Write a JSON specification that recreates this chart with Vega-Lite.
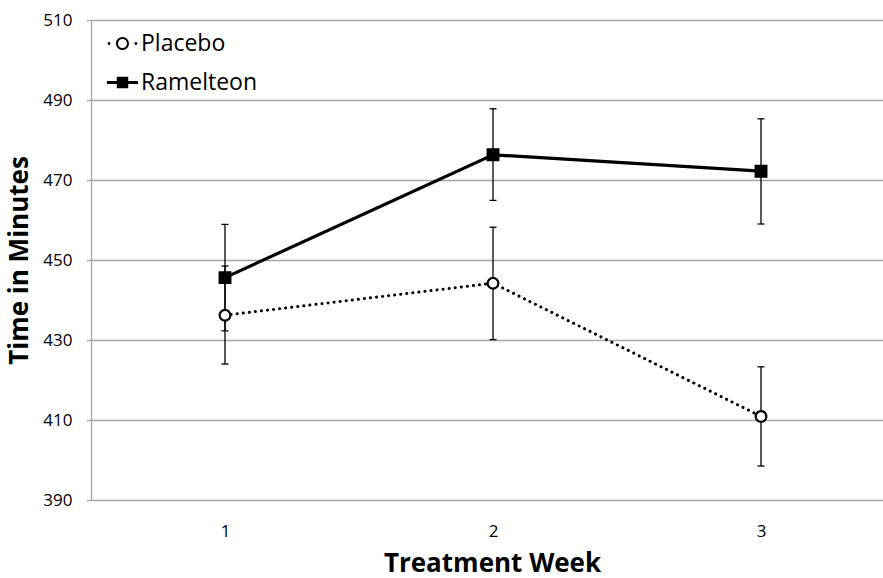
{
  "$schema": "https://vega.github.io/schema/vega-lite/v6.json",
  "autosize": {"type": "none"},
  "width": 792,
  "height": 480,
  "padding": {"left": 91, "top": 20, "right": 0, "bottom": 78},
  "background": "white",
  "config": {
    "font": "Open Sans",
    "view": {"stroke": null},
    "axis": {"labelFont": "Open Sans", "titleFont": "Open Sans", "labelColor": "#000000", "titleColor": "#000000"}
  },
  "data": {
    "values": [
      {"week": 1, "series": "Placebo", "mean": 436.2, "lo": 424.0, "hi": 448.5},
      {"week": 2, "series": "Placebo", "mean": 444.2, "lo": 430.1, "hi": 458.2},
      {"week": 3, "series": "Placebo", "mean": 410.9, "lo": 398.5, "hi": 423.3},
      {"week": 1, "series": "Ramelteon", "mean": 445.6, "lo": 432.3, "hi": 458.9},
      {"week": 2, "series": "Ramelteon", "mean": 476.3, "lo": 464.9, "hi": 487.8},
      {"week": 3, "series": "Ramelteon", "mean": 472.2, "lo": 459.0, "hi": 485.3}
    ]
  },
  "encoding": {
    "x": {
      "field": "week", "type": "quantitative",
      "scale": {"domain": [0.5, 3.4552], "nice": false, "zero": false},
      "axis": {
        "title": "Treatment Week", "values": [1, 2, 3], "format": "d",
        "grid": false, "ticks": false, "domain": false,
        "labelFontSize": 17, "labelPadding": 23,
        "titleFontSize": 26, "titleFontWeight": "bold", "titlePadding": 11, "titleX": 401
      }
    }
  },
  "resolve": {"scale": {"shape": "independent"}},
  "layer": [
    {
      "mark": {"type": "rule", "stroke": "#000000", "strokeWidth": 1.3},
      "encoding": {
        "y": {
          "field": "lo", "type": "quantitative",
          "scale": {"domain": [390, 510], "nice": false, "zero": false},
          "axis": {
            "title": "Time in Minutes", "values": [390, 410, 430, 450, 470, 490, 510],
            "grid": true, "gridColor": "#a6a6a6", "gridWidth": 1.3,
            "domain": true, "domainColor": "#a6a6a6", "domainWidth": 1.3,
            "ticks": true, "tickColor": "#a6a6a6", "tickSize": 5, "tickWidth": 1.3,
            "labelFontSize": 17, "labelPadding": 14,
            "titleFontSize": 26, "titleFontWeight": "bold", "titlePadding": 10
          }
        },
        "y2": {"field": "hi"}
      }
    },
    {
      "mark": {"type": "tick", "orient": "horizontal", "color": "#000000", "size": 7, "thickness": 1.3, "opacity": 1},
      "encoding": {"y": {"field": "lo", "type": "quantitative"}}
    },
    {
      "mark": {"type": "tick", "orient": "horizontal", "color": "#000000", "size": 7, "thickness": 1.3, "opacity": 1},
      "encoding": {"y": {"field": "hi", "type": "quantitative"}}
    },
    {
      "transform": [{"filter": "datum.series === 'Placebo'"}],
      "mark": {"type": "line", "stroke": "#000000", "strokeWidth": 3, "strokeDash": [0.1, 6], "strokeCap": "round"},
      "encoding": {"y": {"field": "mean", "type": "quantitative"}}
    },
    {
      "transform": [{"filter": "datum.series === 'Ramelteon'"}],
      "mark": {"type": "line", "stroke": "#000000", "strokeWidth": 3.2},
      "encoding": {"y": {"field": "mean", "type": "quantitative"}}
    },
    {
      "mark": {"type": "point", "filled": true, "stroke": "#000000", "strokeWidth": 2.2, "size": 115, "opacity": 1},
      "encoding": {
        "y": {"field": "mean", "type": "quantitative"},
        "fill": {"field": "series", "type": "nominal", "scale": {"domain": ["Placebo", "Ramelteon"], "range": ["#ffffff", "#000000"]}, "legend": null},
        "shape": {
          "field": "series", "type": "nominal",
          "scale": {"domain": ["Placebo", "Ramelteon"], "range": ["circle", "square"]},
          "legend": null
        }
      }
    },
    {
      "transform": [{"filter": "datum.week > 99"}],
      "mark": {"type": "point", "filled": true, "color": "#000000", "strokeWidth": 0, "size": 961, "opacity": 1},
      "encoding": {
        "y": {"field": "mean", "type": "quantitative"},
        "shape": {
          "field": "series", "type": "nominal",
          "scale": {"domain": ["Placebo", "Ramelteon"], "range": [
            "M0.42,0 A0.42,0.42 0 1 1 -0.42,0 A0.42,0.42 0 1 1 0.42,0 Z M0.29,0 A0.29,0.29 0 1 0 -0.29,0 A0.29,0.29 0 1 0 0.29,0 Z M-0.77,0 A0.095,0.095 0 1 1 -0.96,0 A0.095,0.095 0 1 1 -0.77,0 Z M0.96,0 A0.095,0.095 0 1 1 0.77,0 A0.095,0.095 0 1 1 0.96,0 Z",
            "M-1,-0.1 L1,-0.1 L1,0.1 L-1,0.1 Z M-0.37,-0.37 L0.37,-0.37 L0.37,0.37 L-0.37,0.37 Z"
          ]},
          "legend": {
            "title": null, "orient": "none", "legendX": 16, "legendY": 8,
            "labelFontSize": 23, "labelFont": "Open Sans", "labelColor": "#000000",
            "labelOffset": 3, "rowPadding": 11, "symbolSize": 961,
            "symbolFillColor": "#000000", "symbolStrokeWidth": 0, "symbolOpacity": 1
          }
        }
      }
    }
  ]
}
